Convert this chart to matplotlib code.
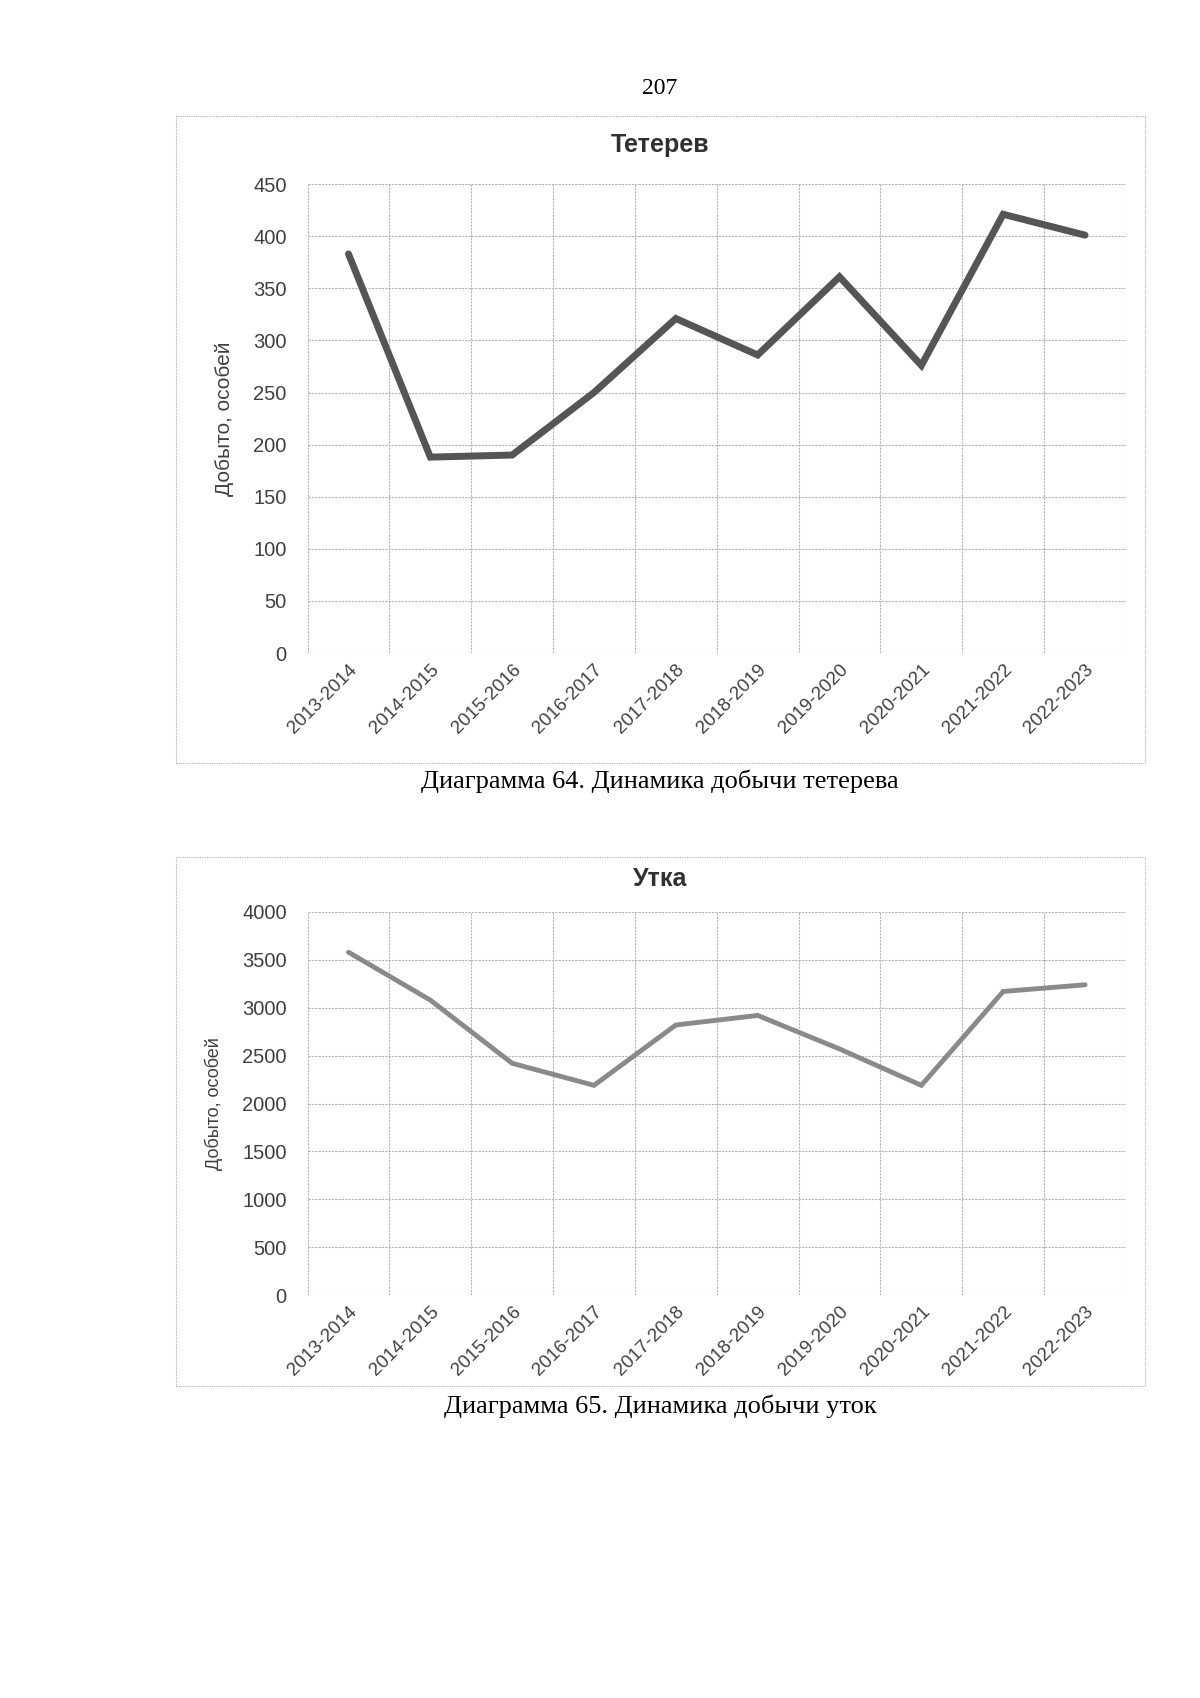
import matplotlib.pyplot as plt
from matplotlib.patches import Rectangle

seasons = ['2013-2014', '2014-2015', '2015-2016', '2016-2017', '2017-2018',
           '2018-2019', '2019-2020', '2020-2021', '2021-2022', '2022-2023']
teterev = [383, 188, 190, 250, 321, 286, 361, 276, 421, 401]
utka = [3580, 3080, 2420, 2190, 2820, 2920, 2570, 2190, 3170, 3240]

plt.rcParams['font.family'] = ['Liberation Sans', 'DejaVu Sans']

fig = plt.figure(figsize=(12, 16.98), dpi=100)
W, H = 1200, 1698


def box(px_left, px_top, px_right, px_bottom):
    # dotted frame round a chart, given in pixels
    r = Rectangle((px_left / W, 1 - px_bottom / H), (px_right - px_left) / W,
                  (px_bottom - px_top) / H, transform=fig.transFigure,
                  fill=False, edgecolor='#b0b0b0', linewidth=0.8,
                  linestyle=(0, (1, 1)))
    fig.patches.append(r)


def chart(rect, values, ymax, step, color, lw, ylab_size):
    ax = fig.add_axes(rect)
    x = list(range(len(seasons)))
    ax.plot(x, values, color=color, linewidth=lw, solid_capstyle='round',
            solid_joinstyle='miter', zorder=3)
    ax.set_xlim(-0.5, len(seasons) - 0.5)
    ax.set_ylim(0, ymax)
    ax.set_yticks(range(0, ymax + 1, step))
    ax.set_xticks(x)
    ax.set_xticklabels(seasons, rotation=45, ha='right', rotation_mode='anchor',
                       fontsize=13.5, color='#404040')
    ax.set_xticks([i - 0.5 for i in range(len(seasons) + 1)], minor=True)
    ax.tick_params(axis='y', labelsize=14.5, colors='#404040', length=0, pad=15)
    ax.tick_params(axis='x', which='both', length=0, pad=6)
    ax.grid(True, which='major', axis='y', color='#b4b4b4', linewidth=0.8,
            linestyle=(0, (2, 1)))
    ax.grid(True, which='minor', axis='x', color='#b4b4b4', linewidth=0.8,
            linestyle=(0, (2, 1)))
    for s in ax.spines.values():
        s.set_visible(False)
    ax.set_ylabel('Добыто, особей', fontsize=ylab_size, color='#404040', labelpad=14)
    return ax


# Тетерев
box(176, 116, 1145, 763)
ax1 = chart([0.2563, 0.6154, 0.682, 0.2762], teterev, 450, 50,
            '#555555', 5, 15)
fig.text(660 / W, 1 - 145 / H, 'Тетерев', ha='center', va='center',
         fontsize=18, fontweight='bold', color='#303030')

# Утка
box(176, 857, 1145, 1386)
ax2 = chart([0.2563, 0.2373, 0.682, 0.2256], utka, 4000, 500,
            '#8a8a8a', 3.5, 13)
fig.text(660 / W, 1 - 879 / H, 'Утка', ha='center', va='center',
         fontsize=18, fontweight='bold', color='#303030')

# page number and captions
serif = ['Liberation Serif', 'DejaVu Serif']
fig.text(660 / W, 1 - 89 / H, '207', ha='center', va='center', fontsize=17,
         family=serif)
fig.text(660 / W, 1 - 781 / H, 'Диаграмма 64. Динамика добычи тетерева',
         ha='center', va='center', fontsize=19, family=serif)
fig.text(660 / W, 1 - 1406 / H, 'Диаграмма 65. Динамика добычи уток',
         ha='center', va='center', fontsize=19, family=serif)

fig.savefig('out.png', dpi=100, facecolor='white')
